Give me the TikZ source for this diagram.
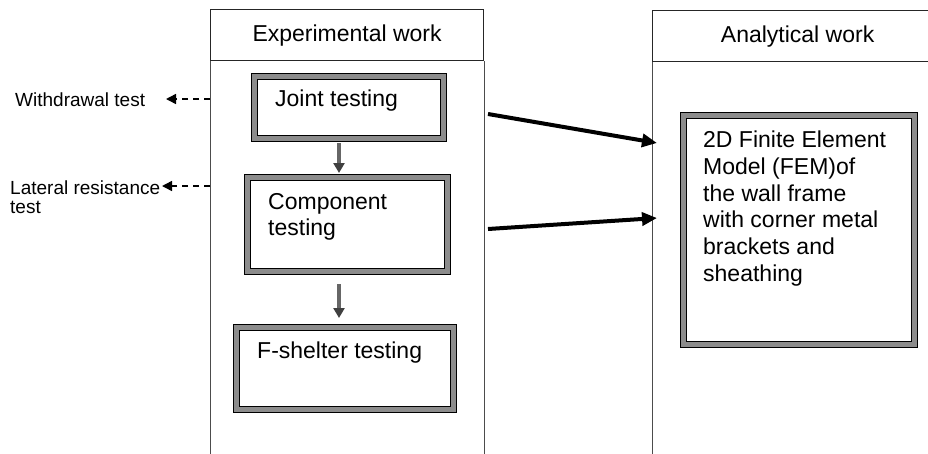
\documentclass[tikz,border=0pt]{standalone}
\usepackage{fontspec}
\setmainfont{Liberation Sans}
\usetikzlibrary{arrows.meta,calc}
\begin{document}
\begin{tikzpicture}[x=1pt,y=-1pt,
  dbox/.style={draw=black,line width=1.1pt,double=black!45,double distance=4.5pt,rectangle,inner sep=0pt,anchor=north west},
  head/.style={draw=black!85,line width=1.2pt,rectangle,inner sep=0pt,anchor=north west,font=\fontsize{23}{27}\selectfont},
  col/.style={draw=black!70,line width=0.9pt},
  txt/.style={font=\fontsize{23}{26.7}\selectfont,align=left,inner sep=0pt,anchor=north west},
  side/.style={font=\fontsize{19}{19}\selectfont,align=left,inner sep=0pt,anchor=west},
  big/.style={line width=4pt,-{Triangle[length=15pt,width=13pt]}},
  down/.style={draw=black!60,line width=3.5pt,-{Triangle[length=10pt,width=11pt,color=black!75]}},
  dsh/.style={line width=1.5pt,dash pattern=on 6pt off 5pt,-{Triangle[length=10pt,width=10pt]}}]
\useasboundingbox (0,0) rectangle (928,453);
\clip (0,0) rectangle (928,453);
% columns
\node[head,minimum width=273pt,minimum height=51pt] (exp) at (210,9) {Experimental work};
\node[head,minimum width=290pt,minimum height=51pt] (ana) at (652,10) {Analytical work};
\coordinate (bot) at (0,456);
\draw[col] (exp.south west) -- (exp.south west |- bot);
\draw[col] (exp.south east) -- (exp.south east |- bot);
\draw[col] (ana.south west) -- (ana.south west |- bot);
% boxes
\node[dbox,minimum width=189pt,minimum height=62pt] (joint) at (254,76) {};
\node[txt,anchor=west] at (275,101) {Joint testing};
\node[dbox,minimum width=200pt,minimum height=94pt] (comp) at (247,177) {};
\node[txt] at (268,193) {Component\\testing};
\node[dbox,minimum width=217pt,minimum height=82pt] (fsh) at (236,327) {};
\node[txt] at (257,342) {F-shelter testing};
\node[dbox,minimum width=231pt,minimum height=229pt] (fem) at (683,115) {};
\node[txt] at (703,131) {2D Finite Element\\Model (FEM)of\\the wall frame\\with corner metal\\brackets and\\sheathing};
% side labels
\node[side] (wd) at (15,100) {Withdrawal test};
\node[side,anchor=north west] (lr) at (10,181) {Lateral resistance\\test};
% arrows
\coordinate (ax) at (339,0);
\draw[down] ($(joint.south -| ax)+(0,4)$) -- ($(comp.north -| ax)+(0,-4)$);
\draw[down] ($(comp.south -| ax)+(0,12)$) -- ($(fsh.north -| ax)+(0,-9)$);
\coordinate (s1) at (488,114);
\coordinate (t1) at (657,143);
\coordinate (s2) at (488,229);
\coordinate (t2) at (657,218);
\draw[big] (s1) -- (t1);
\draw[big] (s2) -- (t2);
\coordinate (d1) at (210,99);
\coordinate (e1) at (166,99);
\coordinate (d2) at (210,186);
\coordinate (e2) at (162,186);
\draw[dsh] (d1) -- (e1);
\draw[dsh] (d2) -- (e2);
\end{tikzpicture}
\end{document}
